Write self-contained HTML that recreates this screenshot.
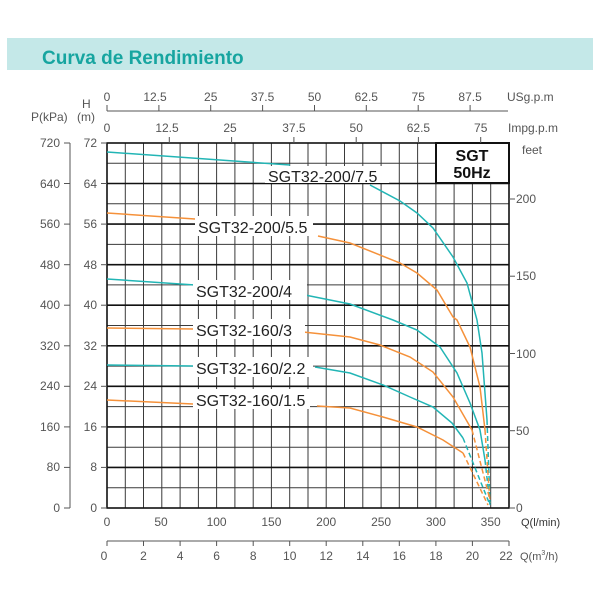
<!DOCTYPE html>
<html><head><meta charset="utf-8"><style>
body{margin:0;background:#fff;width:600px;height:600px;overflow:hidden}
svg{display:block}
text{font-family:"Liberation Sans",sans-serif}
.g{stroke:#3a3a3a;stroke-width:1}
.gt{stroke:#111;stroke-width:1.6}
.lb{font-size:12px;fill:#555}
.lbl{font-size:16px;fill:#222}
</style></head><body>
<svg width="600" height="600" viewBox="0 0 600 600">
<rect x="7" y="38" width="586" height="32" fill="#c4e8e8"/>
<text x="42" y="64" font-size="19" font-weight="bold" fill="#17a5a0">Curva de Rendimiento</text>

<g class="g">
<line x1="125.3" y1="143" x2="125.3" y2="508"/><line x1="143.5" y1="143" x2="143.5" y2="508"/><line x1="161.8" y1="143" x2="161.8" y2="508"/><line x1="180.1" y1="143" x2="180.1" y2="508"/><line x1="198.4" y1="143" x2="198.4" y2="508"/><line x1="216.6" y1="143" x2="216.6" y2="508"/><line x1="234.9" y1="143" x2="234.9" y2="508"/><line x1="253.2" y1="143" x2="253.2" y2="508"/><line x1="271.4" y1="143" x2="271.4" y2="508"/><line x1="289.7" y1="143" x2="289.7" y2="508"/><line x1="308" y1="143" x2="308" y2="508"/><line x1="326.2" y1="143" x2="326.2" y2="508"/><line x1="344.5" y1="143" x2="344.5" y2="508"/><line x1="362.8" y1="143" x2="362.8" y2="508"/><line x1="381.1" y1="143" x2="381.1" y2="508"/><line x1="399.3" y1="143" x2="399.3" y2="508"/><line x1="417.6" y1="143" x2="417.6" y2="508"/><line x1="435.9" y1="143" x2="435.9" y2="508"/><line x1="454.1" y1="143" x2="454.1" y2="508"/><line x1="472.4" y1="143" x2="472.4" y2="508"/><line x1="490.7" y1="143" x2="490.7" y2="508"/>
<line x1="107" y1="487.7" x2="509" y2="487.7"/><line x1="107" y1="447.2" x2="509" y2="447.2"/><line x1="107" y1="406.6" x2="509" y2="406.6"/><line x1="107" y1="366.1" x2="509" y2="366.1"/><line x1="107" y1="325.5" x2="509" y2="325.5"/><line x1="107" y1="284.9" x2="509" y2="284.9"/><line x1="107" y1="244.4" x2="509" y2="244.4"/><line x1="107" y1="203.8" x2="509" y2="203.8"/><line x1="107" y1="163.2" x2="509" y2="163.2"/>
</g>
<g class="gt">
<line x1="107" y1="467.4" x2="509" y2="467.4"/><line x1="107" y1="426.9" x2="509" y2="426.9"/><line x1="107" y1="386.3" x2="509" y2="386.3"/><line x1="107" y1="345.8" x2="509" y2="345.8"/><line x1="107" y1="305.2" x2="509" y2="305.2"/><line x1="107" y1="264.7" x2="509" y2="264.7"/><line x1="107" y1="224.1" x2="509" y2="224.1"/><line x1="107" y1="183.5" x2="509" y2="183.5"/>
</g>
<rect x="107" y="143" width="402" height="365" fill="none" stroke="#111" stroke-width="1.6"/>

<!-- curves -->
<g fill="none" stroke-width="1.5">
<polyline stroke="#22b5b5" points="107,152 290,165"/>
<polyline stroke="#22b5b5" points="370,185 400,201 417,213 433,228 453,257 467,283 477,320 482,353 487,420"/>
<polyline stroke="#22b5b5" stroke-dasharray="5,3" points="487,420 490,503"/>
<polyline stroke="#f5913a" points="107,213 195,219"/>
<polyline stroke="#f5913a" points="318,236 350,243 400,263 417,273 437,290 453,317 457,320 470,347 480,387 485,430"/>
<polyline stroke="#f5913a" stroke-dasharray="5,3" points="485,430 490,503"/>
<polyline stroke="#22b5b5" points="107,279 195,285"/>
<polyline stroke="#22b5b5" points="305,295 350,304 393,320 417,330 440,347 457,373 470,403 480,430 485,460"/>
<polyline stroke="#22b5b5" stroke-dasharray="5,3" points="485,460 490,505"/>
<polyline stroke="#f5913a" points="107,328 195,329"/>
<polyline stroke="#f5913a" points="303,332 350,337 380,345 410,357 433,372 453,397 472,430"/>
<polyline stroke="#f5913a" stroke-dasharray="5,3" points="472,430 490,500"/>
<polyline stroke="#22b5b5" points="107,365 193,366"/>
<polyline stroke="#22b5b5" points="315,367 350,373 383,385 410,397 433,407 452,423 463,438"/>
<polyline stroke="#22b5b5" stroke-dasharray="5,3" points="463,438 490,505"/>
<polyline stroke="#f5913a" points="107,400 193,404"/>
<polyline stroke="#f5913a" points="317,406 350,408 383,417 417,427 443,440 463,453"/>
<polyline stroke="#f5913a" stroke-dasharray="5,3" points="463,453 488,505"/>
</g>

<!-- labels -->
<rect x="265" y="166" width="124" height="17" fill="#fff"/>
<text class="lbl" x="268" y="182">SGT32-200/7.5</text>
<rect x="195" y="216" width="118" height="20" fill="#fff"/>
<text class="lbl" x="198" y="233">SGT32-200/5.5</text>
<rect x="193" y="280" width="114" height="20" fill="#fff"/>
<text class="lbl" x="196" y="297">SGT32-200/4</text>
<rect x="193" y="319" width="112" height="20" fill="#fff"/>
<text class="lbl" x="196" y="336">SGT32-160/3</text>
<rect x="193" y="357" width="120" height="20" fill="#fff"/>
<text class="lbl" x="196" y="374">SGT32-160/2.2</text>
<rect x="193" y="389" width="117" height="20" fill="#fff"/>
<text class="lbl" x="196" y="406">SGT32-160/1.5</text>

<rect x="436" y="143" width="73" height="40" fill="#fff" stroke="#111" stroke-width="2"/>
<text x="472" y="161" font-size="16" font-weight="bold" text-anchor="middle" fill="#111">SGT</text>
<text x="472" y="178" font-size="16" font-weight="bold" text-anchor="middle" fill="#111">50Hz</text>

<!-- left axes -->
<g stroke="#555" stroke-width="1">
<line x1="70" y1="143" x2="70" y2="508"/>
<line x1="64" y1="143" x2="70" y2="143"/><line x1="64" y1="183.5" x2="70" y2="183.5"/><line x1="64" y1="224.1" x2="70" y2="224.1"/><line x1="64" y1="264.7" x2="70" y2="264.7"/><line x1="64" y1="305.2" x2="70" y2="305.2"/><line x1="64" y1="345.8" x2="70" y2="345.8"/><line x1="64" y1="386.3" x2="70" y2="386.3"/><line x1="64" y1="426.9" x2="70" y2="426.9"/><line x1="64" y1="467.4" x2="70" y2="467.4"/><line x1="64" y1="508" x2="70" y2="508"/>
<line x1="101" y1="143" x2="107" y2="143"/><line x1="101" y1="183.5" x2="107" y2="183.5"/><line x1="101" y1="224.1" x2="107" y2="224.1"/><line x1="101" y1="264.7" x2="107" y2="264.7"/><line x1="101" y1="305.2" x2="107" y2="305.2"/><line x1="101" y1="345.8" x2="107" y2="345.8"/><line x1="101" y1="386.3" x2="107" y2="386.3"/><line x1="101" y1="426.9" x2="107" y2="426.9"/><line x1="101" y1="467.4" x2="107" y2="467.4"/><line x1="101" y1="508" x2="107" y2="508"/>
</g>
<g class="lb" text-anchor="end" font-size="12">
<text x="60" y="147">720</text><text x="60" y="188">640</text><text x="60" y="228">560</text><text x="60" y="269">480</text><text x="60" y="309">400</text><text x="60" y="350">320</text><text x="60" y="390">240</text><text x="60" y="431">160</text><text x="60" y="471">80</text><text x="60" y="512">0</text>
<text x="97" y="147">72</text><text x="97" y="188">64</text><text x="97" y="228">56</text><text x="97" y="269">48</text><text x="97" y="309">40</text><text x="97" y="350">32</text><text x="97" y="390">24</text><text x="97" y="431">16</text><text x="97" y="471">8</text><text x="97" y="512">0</text>
</g>
<text class="lb" x="31" y="121">P(kPa)</text>
<text class="lb" x="82" y="108">H</text>
<text class="lb" x="77" y="121">(m)</text>

<!-- right axis feet -->
<g stroke="#555"><line x1="509" y1="199" x2="515" y2="199"/><line x1="509" y1="276.2" x2="515" y2="276.2"/><line x1="509" y1="353.5" x2="515" y2="353.5"/><line x1="509" y1="430.7" x2="515" y2="430.7"/><line x1="509" y1="508" x2="515" y2="508"/></g>
<g class="lb"><text x="516" y="203">200</text><text x="516" y="280">150</text><text x="516" y="358">100</text><text x="516" y="435">50</text><text x="516" y="512">0</text>
<text x="522" y="154">feet</text></g>

<!-- top axes -->
<g stroke="#555">
<line x1="107" y1="111" x2="508" y2="111"/>
<line x1="107" y1="105" x2="107" y2="111"/><line x1="158.9" y1="105" x2="158.9" y2="111"/><line x1="210.7" y1="105" x2="210.7" y2="111"/><line x1="262.6" y1="105" x2="262.6" y2="111"/><line x1="314.5" y1="105" x2="314.5" y2="111"/><line x1="366.3" y1="105" x2="366.3" y2="111"/><line x1="418.2" y1="105" x2="418.2" y2="111"/><line x1="470.1" y1="105" x2="470.1" y2="111"/>
<line x1="169.3" y1="137" x2="169.3" y2="143"/><line x1="231.6" y1="137" x2="231.6" y2="143"/><line x1="293.9" y1="137" x2="293.9" y2="143"/><line x1="356.2" y1="137" x2="356.2" y2="143"/><line x1="418.4" y1="137" x2="418.4" y2="143"/><line x1="480.7" y1="137" x2="480.7" y2="143"/>
</g>
<g class="lb" text-anchor="middle">
<text x="107" y="101">0</text><text x="155" y="101">12.5</text><text x="210.7" y="101">25</text><text x="262.6" y="101">37.5</text><text x="314.5" y="101">50</text><text x="366.3" y="101">62.5</text><text x="418.2" y="101">75</text><text x="470.1" y="101">87.5</text>
<text x="107" y="132">0</text><text x="167" y="132">12.5</text><text x="230" y="132">25</text><text x="293.9" y="132">37.5</text><text x="356.2" y="132">50</text><text x="418.4" y="132">62.5</text><text x="480.7" y="132">75</text>
</g>
<text class="lb" x="507" y="101" font-size="11">USg.p.m</text>
<text class="lb" x="508" y="132" font-size="11">Impg.p.m</text>

<!-- bottom axes -->
<g class="lb" text-anchor="middle">
<text x="107" y="526">0</text><text x="161" y="526">50</text><text x="216.6" y="526">100</text><text x="271.4" y="526">150</text><text x="326.2" y="526">200</text><text x="381.1" y="526">250</text><text x="435.9" y="526">300</text><text x="490.7" y="526">350</text>
</g>
<text x="521" y="526" font-size="11" fill="#333">Q(l/min)</text>
<g stroke="#555">
<line x1="107" y1="541" x2="509" y2="541"/>
<line x1="107" y1="541" x2="107" y2="546"/><line x1="143.5" y1="541" x2="143.5" y2="546"/><line x1="180.1" y1="541" x2="180.1" y2="546"/><line x1="216.6" y1="541" x2="216.6" y2="546"/><line x1="253.2" y1="541" x2="253.2" y2="546"/><line x1="289.7" y1="541" x2="289.7" y2="546"/><line x1="326.2" y1="541" x2="326.2" y2="546"/><line x1="362.8" y1="541" x2="362.8" y2="546"/><line x1="399.3" y1="541" x2="399.3" y2="546"/><line x1="435.9" y1="541" x2="435.9" y2="546"/><line x1="472.4" y1="541" x2="472.4" y2="546"/><line x1="509" y1="541" x2="509" y2="546"/>
</g>
<g class="lb" text-anchor="middle" font-size="12">
<text x="104" y="560">0</text><text x="143.5" y="560">2</text><text x="180.1" y="560">4</text><text x="216.6" y="560">6</text><text x="253.2" y="560">8</text><text x="289.7" y="560">10</text><text x="326.2" y="560">12</text><text x="362.8" y="560">14</text><text x="399.3" y="560">16</text><text x="435.9" y="560">18</text><text x="472.4" y="560">20</text><text x="506" y="560">22</text>
</g>
<text x="520" y="560" font-size="11" fill="#555">Q(m<tspan font-size="7" dy="-5">3</tspan><tspan dy="5">/h)</tspan></text>
</svg>
</body></html>
